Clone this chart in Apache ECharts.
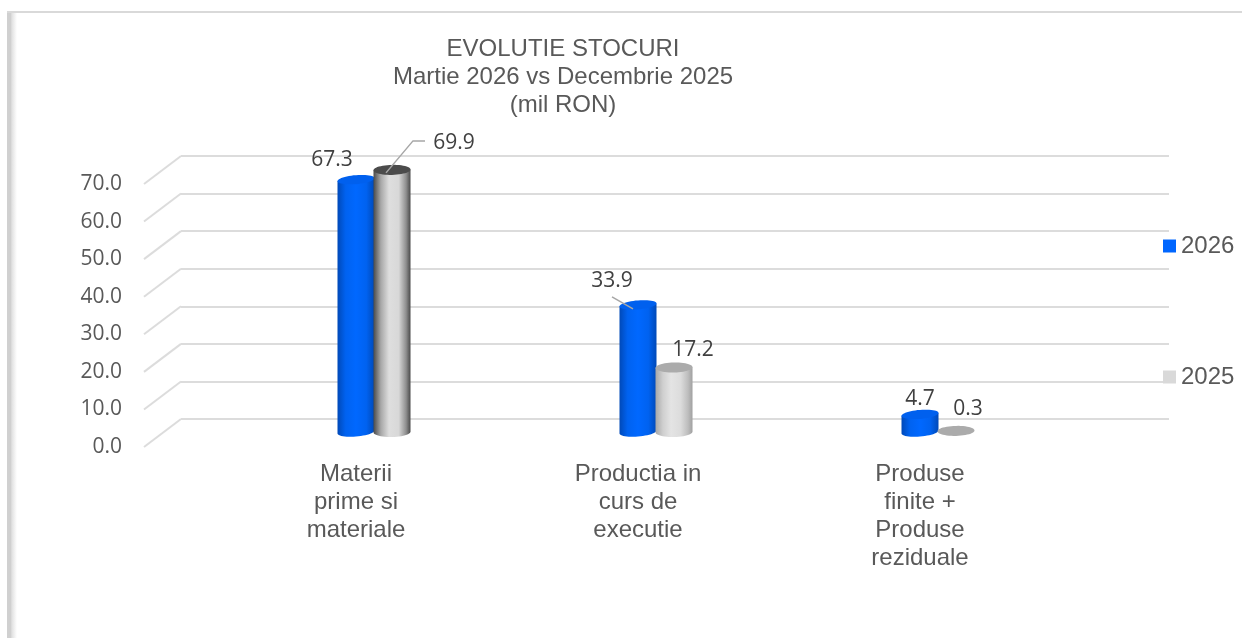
<!DOCTYPE html>
<html><head><meta charset="utf-8">
<style>html,body{margin:0;padding:0;background:#fff}#c{width:1242px;height:638px}</style>
<script src="https://cdn.jsdelivr.net/npm/echarts@6/dist/echarts.min.js"></script>
</head><body><div id="c"></div>
<script>
var categories = ['Materii\nprime si\nmateriale', 'Productia in\ncurs de\nexecutie', 'Produse\nfinite +\nProduse\nreziduale'];
var values2026 = [67.3, 33.9, 4.7];
var values2025 = [69.9, 17.2, 0.3];
var yTicks = [0, 10, 20, 30, 40, 50, 60, 70];
var seriesNames = ['2026', '2025'];

var labelFont = '"Open Sans"';
var titleFont = '"Liberation Sans"';
// pixel offsets of data labels from bar-top centre, leader lines
var labelLayout = {
  '2026': [{dx:-24,dy:-20},{dx:-26,dy:-24,leader:[[-5,4],[-26,-8]]},{dx:0,dy:-15}],
  '2025': [{dx:62,dy:-27,leader:[[-6,3],[21,-29],[33,-29]]},{dx:19,dy:-17},{dx:12,dy:-22}]
};

function styleFor(name, idx){
  if(name==='2026') return {
    body:[[0,'#0049b8'],[0.22,'#0062f0'],[0.5,'#0068ff'],[0.78,'#0062f0'],[1,'#0049b8']],
    top:'#0060ee', tilt:0.08, ry:4.5
  };
  if(idx===0) return {
    body:[[0,'#4a4a4a'],[0.2,'#a8a8a8'],[0.42,'#dedede'],[0.68,'#d8d8d8'],[0.88,'#8f8f8f'],[1,'#4a4a4a']],
    top:'#4b4b4b', tilt:0.02, ry:5
  };
  return {
    body:[[0,'#a8a8a8'],[0.2,'#cfcfcf'],[0.42,'#e4e4e4'],[0.68,'#dcdcdc'],[0.88,'#bdbdbd'],[1,'#a0a0a0']],
    top:'#ababab', tilt:0.02, ry:5
  };
}

function cylinder(seriesIdx, name){
  return function(params, api){
    var i = api.value(0), v = api.value(1);
    var base = api.coord([i, 0]), top = api.coord([i, v]);
    var cx = base[0] + (seriesIdx === 0 ? -18 : 18), rx = 18.5;
    var by = base[1], ty = top[1];
    var st = styleFor(name, i);
    var ry = st.ry;
    var pts = [];
    function pt(a, cy){
      var x = rx*Math.cos(a), y = ry*Math.sin(a);
      return [cx + x, cy + y - st.tilt*x];
    }
    pts.push(pt(Math.PI, ty));
    pts.push(pt(0, ty));
    for(var k=0;k<=24;k++){ pts.push(pt(Math.PI*k/24, by)); }
    var kids = [];
    var topPts = [];
    for(var m=0;m<48;m++){ topPts.push(pt(2*Math.PI*m/48, ty)); }
    if(v >= 1){
      kids.push({type:'polygon', shape:{points:pts}, style:{
        fill:new echarts.graphic.LinearGradient(0,0,1,0,st.body.map(function(s){return {offset:s[0],color:s[1]};}))
      }});
    }
    kids.push({type:'polygon', shape:{points:topPts}, style:{fill:st.top}});
    var lay = labelLayout[name][i];
    if(lay.leader){
      kids.push({type:'polyline', shape:{points:lay.leader.map(function(p){return [cx+p[0],ty+p[1]];})},
        style:{fill:null,stroke:'#a6a6a6',lineWidth:1.5}});
    }
    kids.push({type:'text', style:{x:cx+lay.dx, y:ty+lay.dy, text:v.toFixed(1),
      font:'21px '+labelFont, fill:'#404040', align:'center', verticalAlign:'middle'}});
    return {type:'group', children:kids};
  };
}

function slants(params, api){
  var v = api.value(0);
  var p = api.coord([0, v]);
  var x0 = params.coordSys.x;
  return {type:'line', shape:{x1:x0,y1:p[1],x2:x0-37,y2:p[1]+28},
    style:{stroke:'#dcdcdc',lineWidth:2}};
}

var option = {
  animation:false,
  backgroundColor:'#fff',
  title:{
    text:'EVOLUTIE STOCURI\nMartie 2026 vs Decembrie 2025\n(mil RON)',
    left:558, top:30, textAlign:'center',
    textStyle:{fontFamily:titleFont,fontSize:24,fontWeight:'normal',color:'#595959',lineHeight:28}
  },
  legend:{
    data:seriesNames, orient:'vertical', left:1158, top:229,
    itemWidth:13, itemHeight:13, itemGap:107, icon:'rect',
    textStyle:{fontFamily:titleFont,fontSize:24,color:'#595959'}
  },
  graphic:[
    {type:'rect',shape:{x:7,y:11,width:10,height:627},silent:true,style:{
      fill:new echarts.graphic.LinearGradient(0,0,1,0,[
        {offset:0,color:'#d0d0d0'},{offset:0.35,color:'#d0d0d0'},{offset:0.5,color:'#e2e2e2'},{offset:1,color:'#ffffff'}])}},
    {type:'rect',shape:{x:7,y:11,width:1235,height:2},style:{fill:'#d9d9d9'},silent:true}
  ],
  grid:[
    {left:181, right:73, top:156, height:263},
    {left:215, width:846, top:184, height:263},
    {left:233, width:846, top:169.5, height:262.5}
  ],
  xAxis:[
    {gridIndex:0,type:'category',data:categories,show:false},
    {gridIndex:1,type:'category',data:categories,axisLine:{show:false},axisTick:{show:false},
      axisLabel:{fontFamily:titleFont,fontSize:24,color:'#595959',lineHeight:28,margin:13,interval:0}},
    {gridIndex:2,type:'category',data:categories,show:false}
  ],
  yAxis:[
    {gridIndex:0,type:'value',min:0,max:70,interval:10,axisLine:{show:false},axisTick:{show:false},axisLabel:{show:false},
      splitLine:{show:true,lineStyle:{color:'#dcdcdc',width:2}}},
    {gridIndex:1,type:'value',min:0,max:70,interval:10,offset:85,axisLine:{show:false},axisTick:{show:false},splitLine:{show:false},
      axisLabel:{fontFamily:labelFont,fontSize:21,color:'#595959',margin:8,formatter:function(v){return v.toFixed(1);}}},
    {gridIndex:2,type:'value',min:0,max:70,interval:10,show:false,splitLine:{show:false}}
  ],
  series:[
    {type:'custom',name:'slants',xAxisIndex:0,yAxisIndex:0,data:yTicks.map(function(v){return [v];}),
      encode:{y:0},renderItem:slants,silent:true,z:1},
    {type:'custom',name:seriesNames[1],xAxisIndex:2,yAxisIndex:2,itemStyle:{color:'#d9d9d9'},
      data:values2025.map(function(v,i){return [i,v];}),encode:{x:0,y:1},renderItem:cylinder(1,seriesNames[1]),z:3},
    {type:'custom',name:seriesNames[0],xAxisIndex:2,yAxisIndex:2,itemStyle:{color:'#0066ff'},
      data:values2026.map(function(v,i){return [i,v];}),encode:{x:0,y:1},renderItem:cylinder(0,seriesNames[0]),z:2}
  ]
};
var chart = echarts.init(document.getElementById('c'),null,{renderer:'canvas'});
chart.setOption(option);
</script></body></html>
